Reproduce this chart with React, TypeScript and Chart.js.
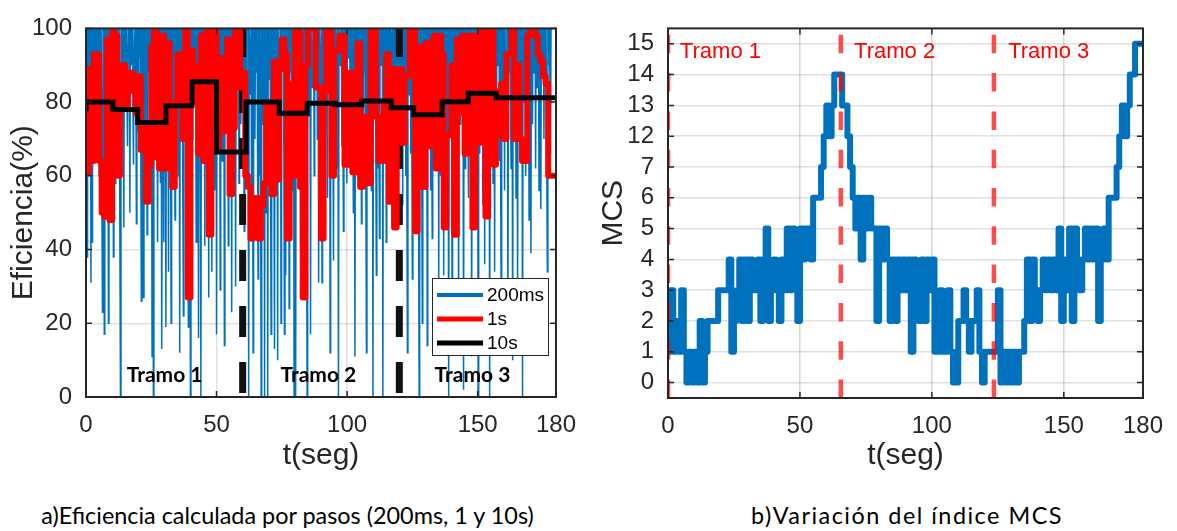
import React, { useEffect, useRef } from 'react';
import { Chart, registerables } from 'chart.js';

Chart.register(...registerables);

// ---------- axis / label data ----------
const xTicks = [0, 50, 100, 150, 180];
const effTicks = [0, 20, 40, 60, 80, 100];
const mcsTickLabels = [0, 1, 2, 3, 4, 5, 6, 7, 12, 13, 14, 15];
const tramoNames = ['Tramo 1', 'Tramo 2', 'Tramo 3'];
const tramoTextTA = [15.6, 74.5, 133.5];
const tramoTextTB = [4.5, 70.5, 128.9];
const sectionLinesA = [60, 120];
const sectionLinesB = [0, 65.5, 123.5];
const legendLabels = ['200ms', '1s', '10s'];

// ---------- panel a: 200 ms efficiency (dips below 100 %) [t, value] ----------
const blue200msDips: [number, number][] = [
  [0.4,38],[1.0,72],[1.9,31],[2.3,42],[3.0,88],[3.6,64],[4.3,80],[5.0,60],[5.6,92],[6.3,23],
  [7.0,17],[7.7,70],[8.6,20],[9.3,66],[10.0,84],[10.5,38],[11.2,58],[11.9,90],[12.5,62],[13.2,0],
  [13.9,76],[14.5,46],[15.2,85],[15.9,68],[16.8,50],[17.5,90],[18.2,63],[18.8,80],[19.3,47],[20.0,72],
  [20.6,92],[21.2,26],[22.0,27],[22.7,66],[23.4,44],[24.0,88],[24.6,60],[25.3,11],[25.8,0],[26.5,80],
  [27.0,64],[27.5,42],[28.2,86],[28.6,58],[29.1,13],[29.8,42],[30.6,19],[31.1,74],[31.6,34],[32.1,88],
  [32.6,20],[33.3,66],[34.1,48],[34.8,82],[35.3,60],[35.9,12],[36.6,78],[37.3,22],[37.9,90],[38.5,64],
  [39.2,19],[40.0,0],[40.7,70],[41.4,86],[42.2,42],[42.7,62],[43.2,16],[44.0,0],[44.7,80],[45.5,41],
  [46.2,66],[47.0,27],[47.6,88],[48.2,34],[48.9,70],[49.4,56],[50.0,17],[50.7,84],[51.4,29],[52.2,64],
  [53.0,14],[53.7,78],[54.5,41],[55.1,90],[55.8,23],[56.5,68],[57.3,30],[58.0,86],[58.6,58],[59.3,74],
  [60.0,92],[60.6,45],[61.3,66],[62.3,0],[63.0,82],[63.5,56],[64.0,12],[64.7,70],[65.3,88],[65.9,32],
  [66.5,60],[67.1,0],[67.8,74],[68.4,0],[69.0,50],[69.6,0],[70.3,86],[70.9,17],[71.6,62],[72.2,13],
  [72.8,80],[73.4,10],[74.1,66],[74.7,20],[75.4,90],[76.0,17],[76.5,33],[77.1,72],[77.8,24],[78.4,88],
  [79.0,56],[79.7,0],[80.3,0],[81.0,70],[81.6,86],[82.2,41],[82.9,64],[83.5,90],[84.1,58],[84.7,0],
  [85.3,76],[86.0,17],[86.7,84],[87.4,60],[88.2,92],[88.6,70],[89.1,31],[89.8,80],[90.4,31],[91.1,66],
  [91.8,88],[92.5,54],[93.5,12],[94.2,74],[94.8,37],[95.6,84],[96.2,62],[96.7,0],[97.4,90],[98.0,68],
  [98.6,45],[99.3,80],[99.9,58],[100.5,92],[101.2,64],[101.8,78],[102.4,50],[103.0,11],[103.7,86],[104.4,62],
  [105.0,90],[105.5,47],[106.2,72],[106.8,88],[107.4,12],[108.1,66],[108.8,84],[109.3,56],[109.9,0],[110.6,78],
  [111.2,33],[111.8,62],[112.4,43],[113.0,90],[113.7,0],[114.3,70],[115.0,42],[115.6,84],[116.3,60],[117.0,92],
  [117.6,72],[118.2,56],[118.7,47],[119.4,80],[120.0,64],[120.7,88],[121.3,52],[121.9,76],[122.5,60],[123.1,12],
  [123.8,82],[124.4,66],[125.0,32],[125.6,90],[126.3,58],[127.0,74],[127.6,0],[128.2,62],[128.8,20],[129.5,86],
  [130.0,68],[130.7,14],[131.3,80],[132.0,56],[132.6,43],[133.2,90],[133.9,64],[134.5,76],[135.1,30],[135.8,60],
  [136.4,88],[137.0,33],[137.6,70],[138.2,52],[138.9,0],[139.5,84],[140.2,29],[140.8,66],[141.4,90],[142.0,58],
  [142.7,19],[143.3,74],[143.9,86],[144.6,2],[145.2,62],[145.9,80],[146.5,54],[147.1,90],[147.7,11],[148.3,70],
  [148.9,60],[149.5,84],[150.2,0],[150.8,66],[151.4,88],[152.0,52],[152.7,36],[153.3,76],[154.0,62],[154.6,0],
  [155.2,86],[155.9,58],[156.5,34],[157.1,72],[157.8,90],[158.4,64],[159.0,26],[159.7,82],[160.3,56],[161.0,70],
  [161.6,19],[162.2,88],[162.8,62],[163.4,10],[164.0,78],[164.7,54],[165.3,26],[165.9,86],[166.5,66],[167.2,0],
  [167.8,80],[168.4,60],[169.0,90],[169.7,48],[170.4,39],[171.0,74],[171.6,88],[172.2,62],[172.8,84],[173.5,56],
  [174.2,51],[174.8,92],[175.4,70],[176.0,86],[176.7,34],[177.3,90],[177.9,66]
];

// ---------- panel a: 1 s efficiency (one value per second) ----------
const red1s = [
  86,61,89,64,93,93,64,50,49,97,
  48,99,98,60,90,90,79,88,88,83,
  77,87,67,74,53,63,95,99,65,62,
  98,62,96,63,57,80,93,93,70,100,
  27,94,80,90,66,98,64,99,44,100,
  100,68,92,72,80,97,55,73,100,100,
  84,88,60,57,43,48,54,43,52,58,
  80,62,55,91,59,89,97,93,43,85,
  60,99,99,57,27,90,100,100,100,84,
  84,43,83,100,100,60,94,94,98,98,
  63,63,88,61,61,96,57,76,58,58,
  100,100,76,64,64,80,93,53,89,46,
  89,89,69,87,87,100,100,45,67,95,
  57,96,68,96,98,62,98,93,46,71,
  71,90,44,97,77,98,66,98,98,46,
  98,69,100,100,49,99,99,63,71,83,
  85,70,93,93,100,70,90,70,64,64,
  98,99,99,98,93,91,87,85,60,60
];

// ---------- panel a: 10 s efficiency (stairs) ----------
const black10sStart = [0, 10.3, 19.8, 30.6, 40.6, 50, 61.3, 74, 84.7, 95.4, 105.6, 116.9, 125.5, 136.4, 146.4, 157.1, 167];
const black10sValue = [77.5, 80, 78, 74.5, 79, 85.5, 66.5, 80, 77, 79.7, 79.3, 80.3, 78.5, 76.6, 80.1, 82.4, 81.2];

// ---------- panel b: MCS index (one value per second) ----------
const mcs = [
  2,1,3,1,2,1,3,1,0,1,
  0,1,0,2,0,1,2,2,2,2,
  3,3,3,3,4,1,2,3,4,2,
  4,2,4,3,3,4,2,4,5,2,
  3,4,3,2,4,3,5,3,5,4,
  2,5,4,5,5,4,6,6,6,7,
  12,13,12,13,14,14,14,13,13,12,
  7,6,5,6,4,6,5,6,5,5,
  2,5,4,5,4,2,4,2,4,3,
  4,3,4,1,4,3,2,4,2,4,
  3,4,1,1,3,1,1,3,1,0,
  0,2,2,3,2,1,2,2,3,1,
  0,1,1,1,1,1,3,0,1,0,
  1,0,1,0,1,1,2,4,2,4,
  3,2,3,4,3,4,3,4,3,5,
  2,4,3,5,2,5,4,3,4,5,
  4,5,4,5,2,4,5,4,6,6,
  6,7,12,13,12,13,14,14,15,15
];

const AX = '#262626';
const FONT = "'Liberation Sans', Arial, Helvetica, sans-serif";
const CAL = "Lato, 'Open Sans', sans-serif";

function framePlugin(yVals: number[]) {
  return {
    id: 'frame',
    afterDatasetsDraw(chart: any) {
      const { ctx, chartArea: a, scales } = chart;
      ctx.save();
      ctx.strokeStyle = AX;
      ctx.lineWidth = 1.5;
      ctx.beginPath();
      xTicks.forEach((v) => {
        const px = scales.x.getPixelForValue(v);
        ctx.moveTo(px, a.bottom); ctx.lineTo(px, a.bottom - 6);
        ctx.moveTo(px, a.top); ctx.lineTo(px, a.top + 6);
      });
      yVals.forEach((v) => {
        const py = scales.y.getPixelForValue(v);
        ctx.moveTo(a.left, py); ctx.lineTo(a.left + 6, py);
        ctx.moveTo(a.right, py); ctx.lineTo(a.right - 6, py);
      });
      ctx.stroke();
      ctx.lineWidth = 2;
      ctx.strokeRect(a.left, a.top, a.right - a.left, a.bottom - a.top);
      ctx.restore();
    },
  };
}

const leftDecor = {
  id: 'leftDecor',
  afterDraw(chart: any) {
    const { ctx, scales } = chart;
    ctx.save();
    ctx.fillStyle = '#000';
    ctx.font = `bold 21px ${CAL}`;
    ctx.textBaseline = 'alphabetic';
    tramoNames.forEach((n, i) => {
      ctx.fillText(n, scales.x.getPixelForValue(tramoTextTA[i]), scales.y.getPixelForValue(4));
    });
    // legend box
    const bx = 432.5, by = 278.5, bw = 116, bh = 77;
    ctx.fillStyle = '#fff';
    ctx.fillRect(bx, by, bw, bh);
    ctx.strokeStyle = AX;
    ctx.lineWidth = 1;
    ctx.strokeRect(bx, by, bw, bh);
    const cols = ['#0072BD', '#FF0000', '#000000'];
    const widths = [4, 5, 5];
    const rows = [295, 319, 343];
    ctx.font = `19px ${FONT}`;
    ctx.textBaseline = 'middle';
    legendLabels.forEach((l, i) => {
      ctx.strokeStyle = cols[i];
      ctx.lineWidth = widths[i];
      ctx.beginPath();
      ctx.moveTo(437, rows[i]);
      ctx.lineTo(483, rows[i]);
      ctx.stroke();
      ctx.fillStyle = '#000';
      ctx.fillText(l, 487, rows[i] + 1);
    });
    ctx.restore();
  },
};

const rightDecor = {
  id: 'rightDecor',
  afterDraw(chart: any) {
    const { ctx, scales } = chart;
    ctx.save();
    ctx.fillStyle = '#FF0000';
    ctx.font = `22px ${FONT}`;
    ctx.textBaseline = 'alphabetic';
    tramoNames.forEach((n, i) => {
      ctx.fillText(n, scales.x.getPixelForValue(tramoTextTB[i]), scales.y.getPixelForValue(10.55));
    });
    ctx.restore();
  },
};

export default function App() {
  const leftRef = useRef<HTMLCanvasElement>(null);
  const rightRef = useRef<HTMLCanvasElement>(null);

  useEffect(() => {
    // build panel a datasets
    const bluePts: { x: number; y: number }[] = [{ x: 0, y: 100 }];
    blue200msDips.forEach(([t, v]) => {
      bluePts.push({ x: t - 0.2, y: 100 }, { x: t, y: v }, { x: t + 0.2, y: 100 });
    });
    bluePts.push({ x: 178.6, y: 100 });
    const redPts = red1s.map((v, i) => ({ x: i, y: v }));
    redPts.push({ x: 180, y: red1s[red1s.length - 1] });
    const blackPts = black10sStart.map((t, i) => ({ x: t, y: black10sValue[i] }));
    blackPts.push({ x: 181, y: black10sValue[black10sValue.length - 1] });

    const tickFont = { family: FONT, size: 24 };
    const titleFont = { family: FONT, size: 30 };

    const left = new Chart(leftRef.current!, {
      type: 'line',
      data: {
        datasets: [
          { label: '200ms', data: bluePts, borderColor: '#0072BD', borderWidth: 1.5, pointRadius: 0, order: 4 } as any,
          ...sectionLinesA.map((x) => ({
            label: 'sec' + x, data: [{ x, y: 0 }, { x, y: 100 }], borderColor: '#111111', borderWidth: 7,
            borderDash: [31, 25], borderDashOffset: 52, pointRadius: 0, order: 3,
          })),
          { label: '1s', data: redPts, stepped: 'after', borderColor: '#FF0000', borderWidth: 6, pointRadius: 0, order: 2, borderJoinStyle: 'round', borderCapStyle: 'round' } as any,
          { label: '10s', data: blackPts, stepped: 'after', borderColor: '#000000', borderWidth: 5, pointRadius: 0, order: 1 } as any,
        ],
      },
      options: {
        animation: false,
        responsive: false,
        events: [],
        layout: { padding: { left: 0, top: 19, right: 25, bottom: 0 } },
        plugins: { legend: { display: false }, tooltip: { enabled: false } },
        scales: {
          x: {
            type: 'linear', min: 0, max: 180,
            afterBuildTicks: (s: any) => { s.ticks = xTicks.map((v) => ({ value: v })); },
            afterFit: (s: any) => { s.height = 83; },
            ticks: { font: tickFont, color: AX, padding: 14, maxRotation: 0, autoSkip: false },
            grid: { color: 'rgba(0,0,0,0.12)', lineWidth: 1.5, drawTicks: false },
            border: { display: false },
            title: { display: true, text: 't(seg)', font: titleFont, color: AX, padding: { top: 0, bottom: 6 } },
          },
          y: {
            type: 'linear', min: 0, max: 100,
            afterBuildTicks: (s: any) => { s.ticks = effTicks.map((v) => ({ value: v })); },
            afterFit: (s: any) => { s.width = 86; },
            ticks: { font: tickFont, color: AX, padding: 14 },
            grid: { color: 'rgba(0,0,0,0.12)', lineWidth: 1.5, drawTicks: false },
            border: { display: false },
            title: { display: true, text: 'Eficiencia(%)', font: titleFont, color: AX, padding: { top: 6, bottom: 0 } },
          },
        },
      } as any,
      plugins: [framePlugin(effTicks), leftDecor],
    });

    const mcsPts = mcs.map((v, i) => ({ x: i, y: mcsTickLabels.indexOf(v) }));
    mcsPts.push({ x: 180, y: mcsTickLabels.indexOf(mcs[mcs.length - 1]) });
    const levelIdx = mcsTickLabels.map((_, i) => i);

    const right = new Chart(rightRef.current!, {
      type: 'line',
      data: {
        datasets: [
          ...sectionLinesB.map((x) => ({
            label: 'sec' + x, data: [{ x, y: -0.5 }, { x, y: 11.5 }], borderColor: 'rgba(255,0,0,0.7)', borderWidth: 4.5,
            borderDash: [18.5, 19.8], pointRadius: 0, order: 0,
          })),
          { label: 'MCS', data: mcsPts, stepped: 'after', borderColor: '#0072BD', borderWidth: 6, pointRadius: 0, order: 1, borderJoinStyle: 'round', borderCapStyle: 'round' } as any,
        ],
      },
      options: {
        animation: false,
        responsive: false,
        events: [],
        layout: { padding: { left: 0, top: 22, right: 31, bottom: 0 } },
        plugins: { legend: { display: false }, tooltip: { enabled: false } },
        scales: {
          x: {
            type: 'linear', min: 0, max: 180,
            afterBuildTicks: (s: any) => { s.ticks = xTicks.map((v) => ({ value: v })); },
            afterFit: (s: any) => { s.height = 82; },
            ticks: { font: tickFont, color: AX, padding: 14, maxRotation: 0, autoSkip: false },
            grid: { color: 'rgba(0,0,0,0.16)', lineWidth: 1.5, drawTicks: false },
            border: { display: false },
            title: { display: true, text: 't(seg)', font: titleFont, color: AX, padding: { top: 0, bottom: 6 } },
          },
          y: {
            type: 'linear', min: -0.5, max: 11.5,
            afterBuildTicks: (s: any) => { s.ticks = levelIdx.map((v) => ({ value: v })); },
            afterFit: (s: any) => { s.width = 78; },
            ticks: { font: tickFont, color: AX, padding: 14, callback: (_v: any, i: number) => String(mcsTickLabels[i]) },
            grid: { color: 'rgba(0,0,0,0.12)', lineWidth: 1.5, drawTicks: false },
            border: { display: false },
            title: { display: true, text: 'MCS', font: titleFont, color: AX, padding: { top: 6, bottom: 0 } },
          },
        },
      } as any,
      plugins: [framePlugin(levelIdx), rightDecor],
    });

    return () => { left.destroy(); right.destroy(); };
  }, []);

  const capStyle: React.CSSProperties = {
    position: 'absolute', top: 500, fontFamily: CAL, fontSize: 23.4, lineHeight: '30px',
    color: '#000', whiteSpace: 'nowrap', textAlign: 'center', width: 600,
  };

  return (
    <div style={{ position: 'absolute', left: 0, top: 0, width: 1177, height: 531, background: '#fff', overflow: 'hidden' }}>
      <canvas ref={leftRef} width={590} height={480} style={{ position: 'absolute', left: 0, top: 0, display: 'block' }} />
      <canvas ref={rightRef} width={587} height={480} style={{ position: 'absolute', left: 590, top: 0, display: 'block' }} />
      <div style={{ ...capStyle, left: 287.5 - 300 }}>a)Eficiencia calculada por pasos (200ms, 1 y 10s)</div>
      <div style={{ ...capStyle, left: 907 - 300, letterSpacing: 1.5 }}>b)Variación del índice MCS</div>
    </div>
  );
}
